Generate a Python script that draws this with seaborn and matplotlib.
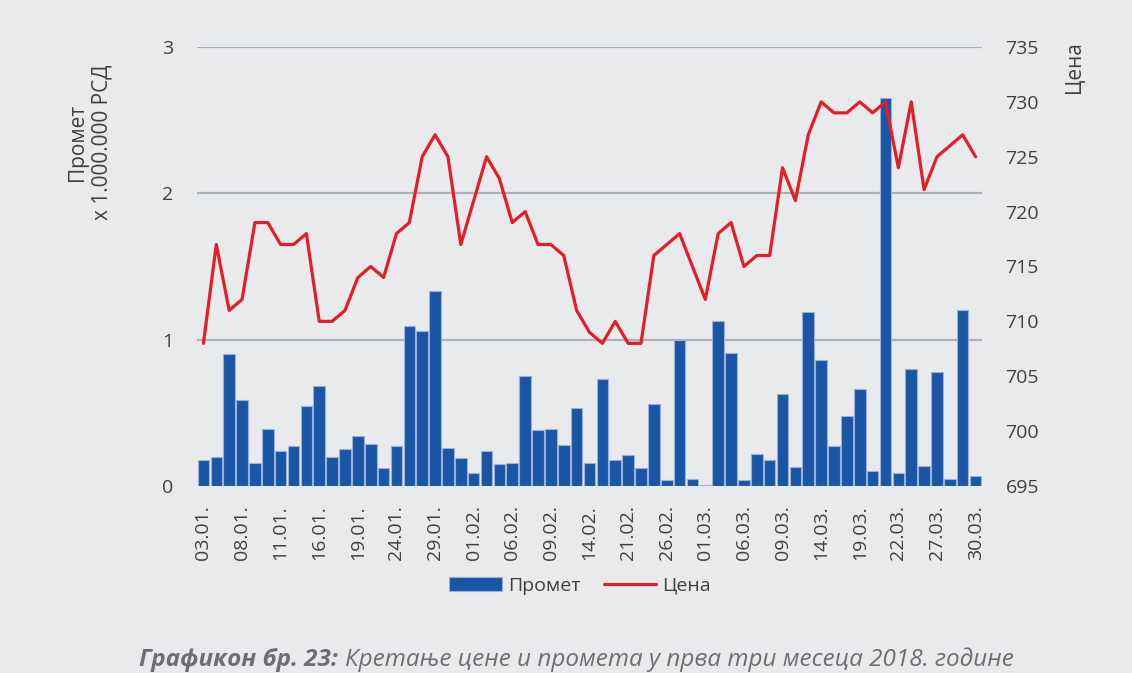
"""
Promet i cena akcija, prva tri meseca 2018.
"""

import matplotlib

matplotlib.use("Agg")
import matplotlib.pyplot as plt  # type: ignore
import seaborn as sns  # type: ignore

# trading days 03.01. - 30.03.2018 (61 days), turnover in millions RSD
promet = [
    0.18, 0.20, 0.90, 0.59, 0.16, 0.39, 0.24, 0.27, 0.55, 0.68,
    0.20, 0.25, 0.34, 0.29, 0.12, 0.27, 1.09, 1.06, 1.33, 0.26,
    0.19, 0.09, 0.24, 0.15, 0.16, 0.75, 0.38, 0.39, 0.28, 0.53,
    0.16, 0.73, 0.18, 0.21, 0.12, 0.56, 0.04, 1.00, 0.05, 0.01,
    1.13, 0.91, 0.04, 0.22, 0.18, 0.63, 0.13, 1.19, 0.86, 0.27,
    0.48, 0.66, 0.10, 2.65, 0.09, 0.80, 0.14, 0.78, 0.05, 1.20,
    0.07,
]
cena = [
    708, 717, 711, 712, 719, 719, 717, 717, 718, 710,
    710, 711, 714, 715, 714, 718, 719, 725, 727, 725,
    717, 721, 725, 723, 719, 720, 717, 717, 716, 711,
    709, 708, 710, 708, 708, 716, 717, 718, 715, 712,
    718, 719, 715, 716, 716, 724, 721, 727, 730, 729,
    729, 730, 729, 730, 724, 730, 722, 725, 726, 727,
    725,
]
# every third trading day is labelled
tick_labels = [
    "03.01.", "08.01.", "11.01.", "16.01.", "19.01.", "24.01.", "29.01.",
    "01.02.", "06.02.", "09.02.", "14.02.", "21.02.", "26.02.", "01.03.",
    "06.03.", "09.03.", "14.03.", "19.03.", "22.03.", "27.03.", "30.03.",
]

BG = "#E9EAEC"
TXT = "#404040"
BLUE = "#1A55A6"
RED = "#E31E24"
GRID = "#ADB0B6"


def main():
    sns.set_theme(style="white")
    plt.rcParams["font.family"] = ["Open Sans", "DejaVu Sans"]

    fig = plt.figure(figsize=(11.32, 6.73), dpi=100, facecolor=BG)
    ax = fig.add_axes([197 / 1132, 1 - 486 / 673, 785 / 1132, 439 / 673])
    ax.set_facecolor(BG)

    pos = list(range(len(promet)))
    sns.barplot(
        x=pos, y=promet, ax=ax, color=BLUE, saturation=1, width=0.9,
        edgecolor="#9BB2D8", linewidth=0.8, label="Промет", zorder=3,
    )
    ax.set_ylim(0, 3)
    ax.set_yticks([0, 1, 2, 3])
    ax.set_xlim(-0.5, len(promet) - 0.5)
    for v in [1, 2, 3]:
        ax.axhline(v, color=GRID, lw=1.6, zorder=1)
    ax.set_xticks(pos[::3])
    ax.set_xticklabels(tick_labels, rotation=90)
    ax.set_xlabel("")
    ax.set_ylabel("")

    ax2 = ax.twinx()
    sns.lineplot(x=pos, y=cena, ax=ax2, color=RED, linewidth=2.3, label="Цена")
    ax2.set_ylim(695, 735)
    ax2.set_yticks(range(695, 736, 5))
    ax2.set_ylabel("")

    h1, l1 = ax.get_legend_handles_labels()
    h2, l2 = ax2.get_legend_handles_labels()
    for a in (ax, ax2):
        if a.get_legend() is not None:
            a.get_legend().remove()
        for s in a.spines.values():
            s.set_visible(False)
    ax.tick_params(axis="y", length=0, pad=17, labelsize=14, labelcolor=TXT)
    ax.tick_params(axis="x", length=0, pad=14, labelsize=14, labelcolor=TXT)
    ax2.tick_params(axis="y", length=0, pad=17, labelsize=14, labelcolor=TXT)

    fig.text(90 / 1132, 1 - 142 / 673, "Промет\nx 1.000.000 РСД", rotation=90,
             ha="center", va="center", fontsize=15, color=TXT,
             multialignment="center")
    fig.text(1075 / 1132, 1 - 67 / 673, "Цена", rotation=90,
             ha="center", va="center", fontsize=15, color=TXT)

    fig.legend(h1 + h2, l1 + l2, loc="center", ncol=2,
               bbox_to_anchor=(580 / 1132, 1 - 586 / 673), frameon=False,
               fontsize=14, labelcolor=TXT, handlelength=2.7,
               handletextpad=0.3, columnspacing=1.2)

    fig.text(338 / 1132, 1 - 660 / 673, "Графикон бр. 23:", ha="right",
             va="center", fontsize=17.5, color="#6D6E71", fontstyle="italic",
             fontweight="bold")
    fig.text(345 / 1132, 1 - 660 / 673,
             "Кретање цене и промета у прва три месеца 2018. године",
             ha="left", va="center", fontsize=17.5, color="#6D6E71",
             fontstyle="italic")

    fig.savefig("out.png", dpi=100, facecolor=BG)


if __name__ == "__main__":
    main()
